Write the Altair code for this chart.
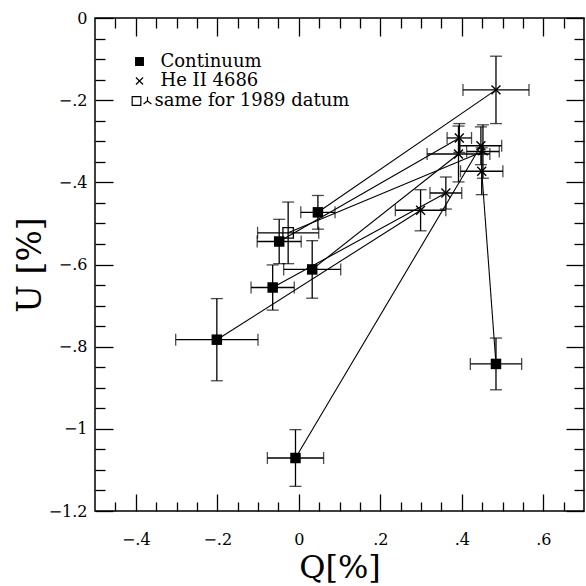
import altair as alt
import pandas as pd

# ---------------- data ----------------
# Continuum points (filled squares), paired index-by-index with He II points
CONT_Q = [0.047, -0.048, -0.064, 0.033, -0.201, -0.008, 0.484]
CONT_U = [-0.473, -0.544, -0.656, -0.612, -0.783, -1.071, -0.842]
CONT_QERR = [0.042, 0.054, 0.053, 0.070, 0.101, 0.069, 0.063]
CONT_UERR = [0.041, 0.054, 0.055, 0.070, 0.100, 0.069, 0.063]

# He II 4686 points (crosses)
HE_Q = [0.484, 0.394, 0.361, 0.392, 0.299, 0.447, 0.449]
HE_U = [-0.175, -0.292, -0.426, -0.331, -0.468, -0.311, -0.373]
HE_QERR = [0.081, 0.030, 0.039, 0.077, 0.062, 0.051, 0.052]
HE_UERR = [0.082, 0.035, 0.039, 0.068, 0.050, 0.046, 0.057]

# 1989 datum: continuum (open square) and He II (tri symbol)
C89_Q = [-0.026]
C89_U = [-0.523]
C89_QERR = [0.075]
C89_UERR = [0.075]
H89_Q = [0.452]
H89_U = [-0.325]
H89_QERR = [0.040]
H89_UERR = [0.065]

# axes
X_DOMAIN = [-0.5, 0.7]
Y_DOMAIN = [-1.2, 0.0]
X_MAJOR = [-0.4, -0.2, 0.0, 0.2, 0.4, 0.6]
X_MINOR = [-0.45, -0.35, -0.3, -0.25, -0.15, -0.1, -0.05, 0.05, 0.1, 0.15,
           0.25, 0.3, 0.35, 0.45, 0.5, 0.55, 0.65]
Y_MAJOR = [0.0, -0.2, -0.4, -0.6, -0.8, -1.0, -1.2]
Y_MINOR = [-0.05, -0.1, -0.15, -0.25, -0.3, -0.35, -0.45, -0.5, -0.55,
           -0.65, -0.7, -0.75, -0.85, -0.9, -0.95, -1.05, -1.1, -1.15]
X_TITLE = "Q[%]"
Y_TITLE = "U [%]"
LEGEND_LABELS = ["Continuum", "He II 4686", "same for 1989 datum"]

# ---------------- tables ----------------
rows = []
for kind, Q, U, QE, UE in [("cont", CONT_Q, CONT_U, CONT_QERR, CONT_UERR),
                           ("he", HE_Q, HE_U, HE_QERR, HE_UERR),
                           ("c89", C89_Q, C89_U, C89_QERR, C89_UERR),
                           ("h89", H89_Q, H89_U, H89_QERR, H89_UERR)]:
    for q, u, qe, ue in zip(Q, U, QE, UE):
        rows.append(dict(kind=kind, q=q, u=u, qlo=q - qe, qhi=q + qe,
                         ulo=u - ue, uhi=u + ue))
pts = pd.DataFrame(rows)

caps_x = pd.concat([pts.assign(cq=pts.qlo, cu=pts.u),
                    pts.assign(cq=pts.qhi, cu=pts.u)])[["cq", "cu"]]
caps_y = pd.concat([pts.assign(cq=pts.q, cu=pts.ulo),
                    pts.assign(cq=pts.q, cu=pts.uhi)])[["cq", "cu"]]

line_rows = []
pair_q = list(zip(CONT_Q + C89_Q, HE_Q + H89_Q))
pair_u = list(zip(CONT_U + C89_U, HE_U + H89_U))
for i, ((q1, q2), (u1, u2)) in enumerate(zip(pair_q, pair_u)):
    line_rows.append(dict(pair=i, o=0, q=q1, u=u1))
    line_rows.append(dict(pair=i, o=1, q=q2, u=u2))
lines = pd.DataFrame(line_rows)

# ---------------- styling ----------------
FONT = "DejaVu Serif"
XS = alt.Scale(domain=X_DOMAIN, nice=False, zero=False)
YS = alt.Scale(domain=Y_DOMAIN, nice=False, zero=False)
LABEL_EXPR = "replace(replace(format(datum.value, '.1~f'), '0.', '.'), '-', '\u2212')"
LW = 1.3


def tick_axis(orient, values, size):
    return alt.Axis(orient=orient, values=values, labels=False, domain=False,
                    grid=False, ticks=True, tickSize={"expr": str(-size)},
                    tickWidth=LW, tickColor="black", title=None)


x_lab = alt.Axis(orient="bottom", values=X_MAJOR, ticks=False, domain=False,
                 grid=False, labelExpr=LABEL_EXPR, labelFont=FONT,
                 labelFontSize=16, labelColor="black", labelPadding=20,
                 labelFlush=False, labelOverlap=False,
                 title=X_TITLE, titleFont=FONT, titleFontSize=32,
                 titleFontWeight="normal", titleColor="black",
                 titleY=56, titleBaseline="middle")
y_lab = alt.Axis(orient="left", values=Y_MAJOR, ticks=False, domain=False,
                 grid=False, labelExpr=LABEL_EXPR, labelFont=FONT,
                 labelFontSize=16, labelColor="black", labelPadding=8,
                 labelFlush=False, labelOverlap=False,
                 title=Y_TITLE, titleFont=FONT, titleFontSize=33,
                 titleFontWeight="normal", titleColor="black",
                 titleX=-65, titleAngle=270, titleBaseline="middle",
                 titleAlign="center")

lines_layer = alt.Chart(lines).mark_line(color="black", strokeWidth=1.1).encode(
    x=alt.X("q:Q", scale=XS, axis=x_lab),
    y=alt.Y("u:Q", scale=YS, axis=y_lab),
    detail="pair:N", order="o:Q")

xerr = alt.Chart(pts).mark_rule(color="black", strokeWidth=LW).encode(
    x=alt.X("qlo:Q", scale=XS, axis=tick_axis("bottom", X_MAJOR, 17)),
    x2="qhi:Q",
    y=alt.Y("u:Q", scale=YS, axis=tick_axis("left", Y_MAJOR, 18)))

yerr = alt.Chart(pts).mark_rule(color="black", strokeWidth=LW).encode(
    x=alt.X("q:Q", scale=XS, axis=tick_axis("bottom", X_MINOR, 9)),
    y=alt.Y("ulo:Q", scale=YS, axis=tick_axis("left", Y_MINOR, 10)),
    y2="uhi:Q")

capx = alt.Chart(caps_x).mark_tick(color="black", thickness=LW, size=12,
                                   orient="vertical").encode(
    x=alt.X("cq:Q", scale=XS, axis=tick_axis("top", X_MAJOR, 18)),
    y=alt.Y("cu:Q", scale=YS, axis=tick_axis("right", Y_MAJOR, 18)))

capy = alt.Chart(caps_y).mark_tick(color="black", thickness=LW, size=12,
                                   orient="horizontal").encode(
    x=alt.X("cq:Q", scale=XS, axis=tick_axis("top", X_MINOR, 10)),
    y=alt.Y("cu:Q", scale=YS, axis=tick_axis("right", Y_MINOR, 10)))

XSHAPE = "M-1,-1L1,1M-1,1L1,-1"
TRISHAPE = "M0,-1L0,0M0,0L-0.9,0.7M0,0L0.9,0.7"


def pmark(kind, **kw):
    return alt.Chart(pts).transform_filter(alt.datum.kind == kind).mark_point(
        color="black", opacity=1, **kw).encode(
        x=alt.X("q:Q", scale=XS, axis=None),
        y=alt.Y("u:Q", scale=YS, axis=None))


cont_m = pmark("cont", shape="square", filled=True, size=110)
he_m = pmark("he", shape=XSHAPE, filled=False, size=80, strokeWidth=1.4)
c89_m = pmark("c89", shape="square", filled=False, size=110, strokeWidth=1.3)
h89_m = pmark("h89", shape=TRISHAPE, filled=False, size=110, strokeWidth=1.4)

# ---------------- legend (inside plot, top left) ----------------
one = pd.DataFrame({"k": [0]})


def leg_sym(px, py, **kw):
    return alt.Chart(one).mark_point(color="black", opacity=1, **kw).encode(
        x=alt.value(px), y=alt.value(py))


def leg_txt(label, px, py):
    return alt.Chart(pd.DataFrame({"label": [label]})).mark_text(
        align="left", baseline="middle", font=FONT, fontSize=18,
        color="black").encode(x=alt.value(px), y=alt.value(py), text="label:N")


legend = [
    leg_sym(44.5, 43.5, shape="square", filled=True, size=80),
    leg_sym(44.5, 63, shape=XSHAPE, filled=False, size=50, strokeWidth=1.2),
    leg_sym(41.5, 83, shape="square", filled=False, size=75, strokeWidth=1.2),
    leg_sym(52.5, 83, shape=TRISHAPE, filled=False, size=75, strokeWidth=1.2),
    leg_txt(LEGEND_LABELS[0], 65.5, 43.5),
    leg_txt(LEGEND_LABELS[1], 65.5, 63),
    leg_txt(LEGEND_LABELS[2], 59.5, 83),
]

chart = alt.layer(
    lines_layer, xerr, yerr, capx, capy, cont_m, he_m, c89_m, h89_m, *legend
).resolve_axis(x="independent", y="independent").properties(
    width=489, height=493,
    padding={"left": 95, "top": 18, "right": 2, "bottom": 75},
    autosize=alt.AutoSizeParams(type="none"),
    background="white",
).configure_view(stroke="black", strokeWidth=1.5)

chart.save("out.html", embed_options={"renderer": "svg", "actions": False})
